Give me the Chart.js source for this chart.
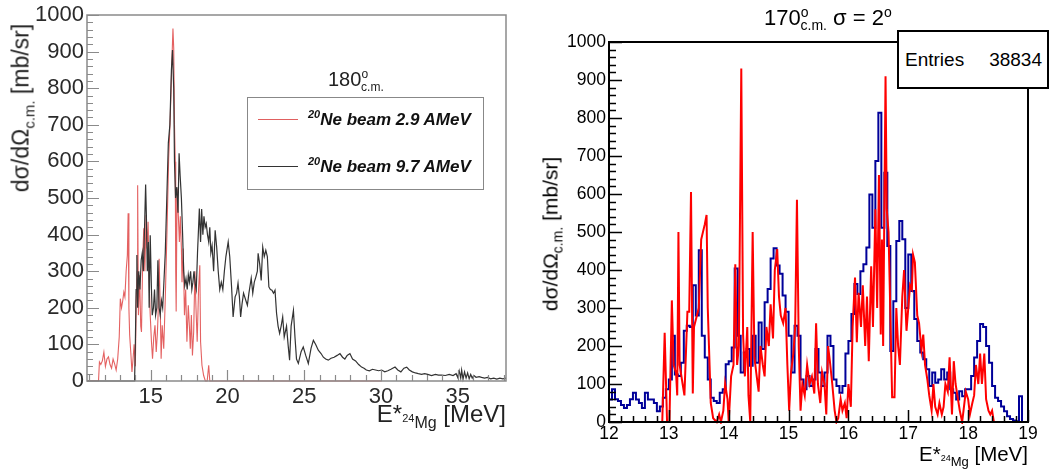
<!DOCTYPE html>
<html>
<head>
<meta charset="utf-8">
<script src="https://cdn.jsdelivr.net/npm/chart.js@4.4.1/dist/chart.umd.min.js"></script>
<style>
  body { margin:0; background:#fff; font-family:"Liberation Sans", Arial, sans-serif; }
  #wrap { position:relative; width:1052px; height:470px; overflow:hidden; }
  canvas { position:absolute; top:0; }
  .t { position:absolute; white-space:nowrap; line-height:1; color:#000; }
  .rot { transform:translate(-50%,-50%) rotate(-90deg); }
  sub, sup { line-height:0; }
</style>
</head>
<body>
<div id="wrap">
  <canvas id="leftChart" width="520" height="470" style="left:0;width:520px;height:470px"></canvas>
  <canvas id="rightChart" width="532" height="470" style="left:520px;width:532px;height:470px"></canvas>

  <!-- left panel text -->
  <div class="t rot" style="left:21px;top:108px;font-size:23px;color:#222">dσ/dΩ<sub style="font-size:15px">c.m.</sub> [mb/sr]</div>
  <div class="t" style="right:546px;top:402px;font-size:24px;color:#222">E*<sub style="font-size:16px"><sup style="font-size:11px">24</sup>Mg</sub> [MeV]</div>
  <div class="t" style="left:328px;top:69px;font-size:20px;color:#222">180<sup style="font-size:12px">o</sup><sub style="font-size:12px;margin-left:-7px">c.m.</sub></div>
  <div style="position:absolute;left:247px;top:97px;width:235px;height:91px;border:1px solid #888;background:#fff">
    <div style="position:absolute;left:10px;top:21px;width:40px;border-top:1px solid #e06060"></div>
    <div class="t" style="left:60px;top:13px;font-size:17px;font-weight:bold;font-style:italic;color:#111"><sup style="font-size:11px">20</sup>Ne beam 2.9 AMeV</div>
    <div style="position:absolute;left:10px;top:68px;width:40px;border-top:1px solid #333"></div>
    <div class="t" style="left:60px;top:60px;font-size:17px;font-weight:bold;font-style:italic;color:#111"><sup style="font-size:11px">20</sup>Ne beam 9.7 AMeV</div>
  </div>

  <!-- right panel text -->
  <div class="t" style="left:764px;top:7px;font-size:22px">170<sup style="font-size:14px">o</sup><sub style="font-size:14px;margin-left:-8px">c.m.</sub> σ = 2<sup style="font-size:14px">o</sup></div>
  <div class="t rot" style="left:550px;top:234px;font-size:21px">dσ/dΩ<sub style="font-size:14px">c.m.</sub> [mb/sr]</div>
  <div class="t" style="right:24px;top:444px;font-size:20.5px">E*<sub style="font-size:13px"><sup style="font-size:9px">24</sup>Mg</sub> [MeV]</div>
  <div style="position:absolute;left:897px;top:30px;width:148px;height:55px;border:2px solid #000;background:#fff">
    <div class="t" style="left:6px;top:18px;font-size:19px">Entries</div>
    <div class="t" style="right:5px;top:18px;font-size:19px">38834</div>
  </div>
</div>

<script>
// ---- left panel: 180 deg c.m. ----
const leftXTicks = [15, 20, 25, 30, 35];
const leftYTicks = [0, 100, 200, 300, 400, 500, 600, 700, 800, 900, 1000];

// 20Ne beam 2.9 AMeV (red)
const redLowE = [10.85, 11.50, 11.60, 11.66, 11.75, 11.85, 11.95, 12.05, 12.15, 12.25, 12.35, 12.45, 12.55, 12.65, 12.75, 12.85, 12.95, 13.02, 13.10, 13.18,
  13.25, 13.32, 13.40, 13.48, 13.53, 13.58, 13.63, 13.70, 13.78, 13.85, 13.92, 14.00, 14.06, 14.12, 14.15, 14.20, 14.28, 14.35, 14.40, 14.48,
  14.55, 14.62, 14.70, 14.76, 14.83, 14.90, 14.97, 15.05, 15.12, 15.20, 15.28, 15.36, 15.44, 15.48, 15.55, 15.62, 15.68, 15.75, 15.85, 15.95,
  16.06, 16.17, 16.28, 16.38, 16.45, 16.50, 16.55, 16.60, 16.63, 16.66, 16.72, 16.80, 16.87, 16.93, 17.00, 17.04, 17.12, 17.20, 17.28, 17.36,
  17.45, 17.52, 17.58, 17.65, 17.72, 17.80, 17.88, 17.95, 18.03, 18.12, 18.20, 18.25, 18.34, 18.45, 18.56, 18.68, 18.78, 18.85, 18.95, 30.05];
const redLowV = [0, 0, 0, 52, 45, 55, 79, 40, 60, 66, 45, 35, 60, 47, 30, 60, 120, 225, 200, 220,
  243, 230, 300, 344, 458, 200, 125, 80, 25, 60, 100, 40, 225, 300, 535, 180, 289, 150, 134, 334,
  417, 300, 453, 362, 435, 270, 180, 107, 61, 120, 152, 79, 134, 180, 334, 207, 61, 152, 88, 225,
  407, 608, 727, 872, 963, 909, 700, 599, 300, 190, 526, 453, 380, 450, 362, 270, 362, 180, 250, 107,
  207, 150, 88, 180, 70, 134, 300, 200, 107, 252, 316, 107, 43, 15, 0, 0, 43, 0, 0, 0];

// 20Ne beam 9.7 AMeV (black)
const blackE = [10.85, 13.85, 13.95, 14.00, 14.05, 14.10, 14.15, 14.22, 14.30, 14.38,
  14.45, 14.52, 14.60, 14.67, 14.72, 14.78, 14.85, 14.90, 14.97, 15.05,
  15.10, 15.18, 15.25, 15.32, 15.40, 15.47, 15.55, 15.62, 15.70, 15.78,
  15.85, 15.95, 16.05, 16.15, 16.25, 16.35, 16.42, 16.50, 16.55, 16.62,
  16.70, 16.78, 16.85, 16.92, 17.00, 17.08, 17.15, 17.22, 17.30, 17.38,
  17.45, 17.52, 17.60, 17.68, 17.75, 17.82, 17.90, 17.97, 18.05, 18.10,
  18.17, 18.25, 18.32, 18.40, 18.47, 18.55, 18.62, 18.70, 18.78, 18.85,
  18.92, 19.00, 19.10, 19.20, 19.30, 19.40, 19.50, 19.60, 19.70, 19.80,
  19.90, 20.05, 20.15, 20.27, 20.37, 20.50, 20.60, 20.69, 20.78, 20.86,
  20.95, 21.05, 21.20, 21.30, 21.40, 21.55, 21.65, 21.75, 21.85, 21.95,
  22.00, 22.10, 22.20, 22.30, 22.40, 22.50, 22.60, 22.70, 22.80, 22.90,
  23.00, 23.10, 23.20, 23.30, 23.40, 23.50, 23.60, 23.70, 23.85, 23.95,
  24.05, 24.15, 24.30, 24.40, 24.50, 24.62, 24.80, 24.94, 25.10, 25.27,
  25.45, 25.60, 25.75, 25.92, 26.10, 26.25, 26.40, 26.57, 26.75, 26.95,
  27.15, 27.33, 27.50, 27.65, 27.80, 27.98, 28.15, 28.35, 28.55, 28.74,
  28.90, 29.05, 29.25, 29.45, 29.65, 29.85, 30.05, 30.25, 30.45, 30.65,
  30.92, 31.10, 31.30, 31.50, 31.68, 31.85, 32.05, 32.25, 32.44, 32.65,
  32.85, 33.05, 33.30, 33.55, 33.75, 33.96, 34.20, 34.45, 34.70, 34.90,
  35.00, 35.10, 35.20, 35.26, 35.35, 35.45, 35.55, 35.65, 35.75, 35.85,
  35.95, 36.05, 36.20, 36.40, 36.56, 36.75, 36.95, 37.15, 37.35, 37.55,
  37.75, 37.95, 38.15];
const blackV = [0, 0, 0, 100, 250, 344, 200, 300, 250, 330,
  350, 300, 420, 537, 450, 300, 380, 200, 398, 250,
  180, 200, 250, 180, 200, 330, 200, 180, 220, 200,
  260, 350, 500, 650, 700, 850, 904, 800, 600, 500,
  530, 460, 622, 560, 500, 400, 300, 260, 280, 250,
  290, 270, 300, 250, 270, 300, 266, 250, 350, 400,
  471, 380, 470, 400, 450, 420, 430, 400, 380, 420,
  350, 370, 300, 412, 365, 300, 250, 270, 250, 300,
  340, 380, 340, 257, 175, 230, 240, 267, 230, 175,
  210, 240, 220, 207, 240, 281, 240, 270, 284, 300,
  349, 320, 275, 366, 340, 357, 340, 257, 250, 248,
  240, 248, 185, 150, 130, 150, 175, 120, 150, 100,
  57, 150, 193, 120, 60, 48, 80, 93, 70, 48,
  90, 111, 100, 84, 75, 65, 60, 57, 62, 65,
  70, 75, 65, 60, 70, 75, 60, 55, 45, 38,
  35, 30, 28, 32, 30, 28, 30, 25, 28, 32,
  38, 30, 25, 35, 38, 30, 25, 22, 20, 18,
  20, 18, 15, 18, 16, 16, 15, 18, 15, 20,
  10, 28, 8, 30, 5, 25, 8, 22, 6, 18,
  8, 15, 10, 12, 10, 8, 10, 6, 8, 5,
  8, 6, 8];

// ---- right panel: 170 deg c.m., sigma = 2 deg ----
const rightXTicks = [12, 13, 14, 15, 16, 17, 18, 19];
const rightYTicks = [0, 100, 200, 300, 400, 500, 600, 700, 800, 900, 1000];

// blue histogram, 0.05 MeV bins starting at 12.0
const blueStart = 12.0, blueWidth = 0.05;
const blueCounts = [
  59, 59, 86, 60, 55, 45, 37, 45, 60, 77, 59, 50, 37, 77, 59, 59, 50, 28, 41, 64,
  86, 112, 227, 125, 121, 156, 240, 253, 250, 360, 280, 452, 227, 170, 112, 64, 55, 50, 77, 86,
  152, 160, 196, 404, 227, 130, 183, 192, 148, 227, 156, 262, 192, 315, 350, 430, 457, 412, 390, 333,
  290, 227, 130, 253, 227, 112, 86, 121, 95, 112, 192, 130, 95, 130, 227, 200, 112, 95, 77, 95,
  180, 213, 284, 363, 337, 397, 415, 459, 599, 511, 687, 814, 511, 656, 463, 187, 318, 476, 529, 481,
  300, 441, 345, 271, 213, 183, 165, 139, 95, 130, 103, 112, 139, 112, 130, 86, 77, 59, 81, 68,
  86, 86, 121, 170, 213, 258, 250, 200, 156, 95, 64, 55, 41, 28, 15, 8, 4, 2, 68, 0];

// red curve
const redE = [12.89, 12.93, 12.97, 13.01, 13.05, 13.08, 13.12, 13.14, 13.16, 13.18,
  13.23, 13.26, 13.31, 13.34, 13.37, 13.40, 13.42, 13.50, 13.54, 13.60,
  13.63, 13.65, 13.68, 13.70, 13.74, 13.80, 13.84, 13.87, 13.91, 13.94,
  13.98, 14.00, 14.04, 14.08, 14.11, 14.14, 14.17, 14.21, 14.24, 14.27,
  14.31, 14.33, 14.36, 14.40, 14.43, 14.46, 14.50, 14.53, 14.57, 14.60,
  14.63, 14.67, 14.70, 14.74, 14.77, 14.81, 14.84, 14.87, 14.91, 14.95,
  14.98, 15.01, 15.04, 15.08, 15.11, 15.14, 15.17, 15.20, 15.23, 15.27,
  15.31, 15.35, 15.39, 15.43, 15.46, 15.49, 15.53, 15.56, 15.60, 15.63,
  15.66, 15.69, 15.73, 15.77, 15.80, 15.83, 15.87, 15.90, 15.94, 15.97,
  16.00, 16.04, 16.07, 16.11, 16.14, 16.17, 16.21, 16.24, 16.28, 16.31,
  16.34, 16.38, 16.41, 16.45, 16.48, 16.51, 16.54, 16.56, 16.58, 16.62,
  16.64, 16.67, 16.69, 16.73, 16.77, 16.80, 16.83, 16.86, 16.90, 16.93,
  16.97, 17.00, 17.03, 17.06, 17.08, 17.11, 17.15, 17.18, 17.22, 17.25,
  17.28, 17.32, 17.35, 17.39, 17.42, 17.45, 17.49, 17.52, 17.56, 17.59,
  17.62, 17.66, 17.69, 17.73, 17.76, 17.79, 17.83, 17.86, 17.90, 17.93,
  17.96, 18.00, 18.03, 18.07, 18.10, 18.13, 18.17, 18.20, 18.23, 18.27,
  18.30, 18.34, 18.37, 18.40, 18.43];
const redV = [0, 235, 0, 0, 320, 150, 130, 70, 500, 150,
  100, 70, 290, 290, 605, 75, 250, 300, 480, 520,
  545, 300, 150, 50, 10, 0, 20, 0, 30, 100,
  60, 0, 120, 150, 415, 150, 200, 930, 230, 120,
  250, 70, 0, 500, 170, 130, 80, 200, 150, 120,
  250, 200, 310, 220, 400, 455, 330, 280, 260, 300,
  150, 30, 130, 180, 250, 585, 200, 30, 100, 70,
  150, 100, 120, 75, 260, 100, 50, 130, 100, 20,
  200, 160, 100, 30, 0, 10, 60, 30, 50, 10,
  100, 40, 250, 380, 210, 340, 250, 360, 200, 330,
  160, 410, 250, 560, 300, 650, 230, 480, 200, 910,
  560, 500, 360, 65, 65, 300, 200, 150, 330, 400,
  240, 300, 360, 350, 440, 420, 280, 260, 190, 230,
  150, 110, 70, 30, 100, 40, 20, 50, 20, 40,
  100, 80, 170, 20, 160, 100, 60, 30, 0, 40,
  80, 60, 20, 50, 70, 150, 100, 180, 100, 180,
  60, 30, 20, 30, 0];

const FONT = '"Liberation Sans", Arial, sans-serif';

function pairs(xs, ys){
  const n = Math.min(xs.length, ys.length);
  const out = [];
  for(let i=0;i<n;i++) out.push({x: xs[i], y: ys[i]});
  return out;
}

function histPoints(start, width, counts){
  const out = counts.map((c,i)=>({x: start + i*width, y: c}));
  out.push({x: start + counts.length*width, y: counts[counts.length-1]});
  return out;
}

function steps(min, max, step){
  const out = [];
  const n = Math.round((max-min)/step);
  for(let i=0;i<=n;i++) out.push(+(min + i*step).toFixed(6));
  return out;
}

// ROOT-like frame with inward ticks, drawn through the chart scales
const rootFrame = {
  id: 'rootFrame',
  afterDatasetsDraw(chart, args, o){
    const {ctx, chartArea: a, scales: {x, y}} = chart;
    ctx.save();
    ctx.strokeStyle = o.color;
    ctx.lineWidth = o.tickWidth;
    ctx.beginPath();
    o.xMinor.forEach(v=>{
      if(v < x.min || v > x.max) return;
      const isMajor = Math.abs(v/o.xMajorStep - Math.round(v/o.xMajorStep)) < 1e-6;
      const px = Math.round(x.getPixelForValue(v)) + 0.5;
      ctx.moveTo(px, a.bottom);
      ctx.lineTo(px, a.bottom - (isMajor ? o.xMajorLen : o.xMinorLen));
    });
    o.yMinor.forEach(v=>{
      const isMajor = Math.abs(v/o.yMajorStep - Math.round(v/o.yMajorStep)) < 1e-6;
      const py = Math.round(y.getPixelForValue(v)) + 0.5;
      ctx.moveTo(a.left, py);
      ctx.lineTo(a.left + (isMajor ? o.yMajorLen : o.yMinorLen), py);
    });
    ctx.stroke();
    ctx.lineWidth = o.lineWidth;
    ctx.strokeRect(a.left, a.top, a.right - a.left, a.bottom - a.top);
    ctx.restore();
  }
};

function axes(xmin, xmax, xTicks, yTicks, yWidth, xHeight, fontSize, color, xPad){
  return {
    x: {
      type: 'linear', min: xmin, max: xmax,
      grid: {display: false, drawTicks: false}, border: {display: false},
      ticks: {font: {family: FONT, size: fontSize}, color, padding: xPad, maxRotation: 0, autoSkip: false, callback: v => String(v)},
      afterBuildTicks: s => { s.ticks = xTicks.map(v=>({value: v})); },
      afterFit: s => { s.height = xHeight; s.paddingLeft = 0; s.paddingRight = 0; }
    },
    y: {
      type: 'linear', min: 0, max: 1000,
      grid: {display: false, drawTicks: false}, border: {display: false},
      ticks: {font: {family: FONT, size: fontSize}, color, padding: 3, autoSkip: false, callback: v => String(v)},
      afterBuildTicks: s => { s.ticks = yTicks.map(v=>({value: v})); },
      afterFit: s => { s.width = yWidth; s.paddingTop = 0; s.paddingBottom = 0; }
    }
  };
}

const common = {
  responsive: false,
  animation: false,
  devicePixelRatio: 1,
  plugins: {legend: {display: false}, tooltip: {enabled: false}},
  elements: {point: {radius: 0}, line: {tension: 0}}
};

new Chart(document.getElementById('leftChart'), {
  type: 'line',
  data: {
    datasets: [
      {label: '20Ne beam 9.7 AMeV', data: pairs(blackE, blackV), borderColor: '#333', borderWidth: 1.2, clip: 3, order: 0},
      {label: '20Ne beam 2.9 AMeV', data: pairs(redLowE, redLowV), borderColor: 'rgba(225,80,80,0.9)', borderWidth: 1.1, clip: 3, order: 1}
    ]
  },
  options: Object.assign({}, common, {
    layout: {padding: {left: 0, right: 14, top: 15, bottom: 0}},
    scales: axes(10.85, 38.15, leftXTicks, leftYTicks, 87, 89, 22, '#2a2a2a', 3),
    plugins: Object.assign({}, common.plugins, {
      rootFrame: {color: '#8a8a8a', lineWidth: 1.5, tickWidth: 1.2,
        xMinor: steps(11, 38, 1), xMajorStep: 5, xMajorLen: 11, xMinorLen: 6,
        yMinor: steps(0, 1000, 20), yMajorStep: 100, yMajorLen: 12, yMinorLen: 6}
    })
  }),
  plugins: [rootFrame]
});

new Chart(document.getElementById('rightChart'), {
  type: 'line',
  data: {
    datasets: [
      {label: 'red', data: pairs(redE, redV), borderColor: '#ff0000', borderWidth: 2, clip: 2, order: 0},
      {label: 'blue', data: histPoints(blueStart, blueWidth, blueCounts), borderColor: '#000099', borderWidth: 2, stepped: 'after', clip: 2, order: 1}
    ]
  },
  options: Object.assign({}, common, {
    layout: {padding: {left: 0, right: 24, top: 42, bottom: 0}},
    scales: axes(12, 19, rightXTicks, rightYTicks, 89, 48, 17.5, '#000', 2),
    plugins: Object.assign({}, common.plugins, {
      rootFrame: {color: '#000', lineWidth: 2, tickWidth: 1.5,
        xMinor: steps(12, 19, 0.2), xMajorStep: 1, xMajorLen: 12, xMinorLen: 6,
        yMinor: steps(0, 1000, 20), yMajorStep: 100, yMajorLen: 13, yMinorLen: 7}
    })
  }),
  plugins: [rootFrame]
});
</script>
</body>
</html>
